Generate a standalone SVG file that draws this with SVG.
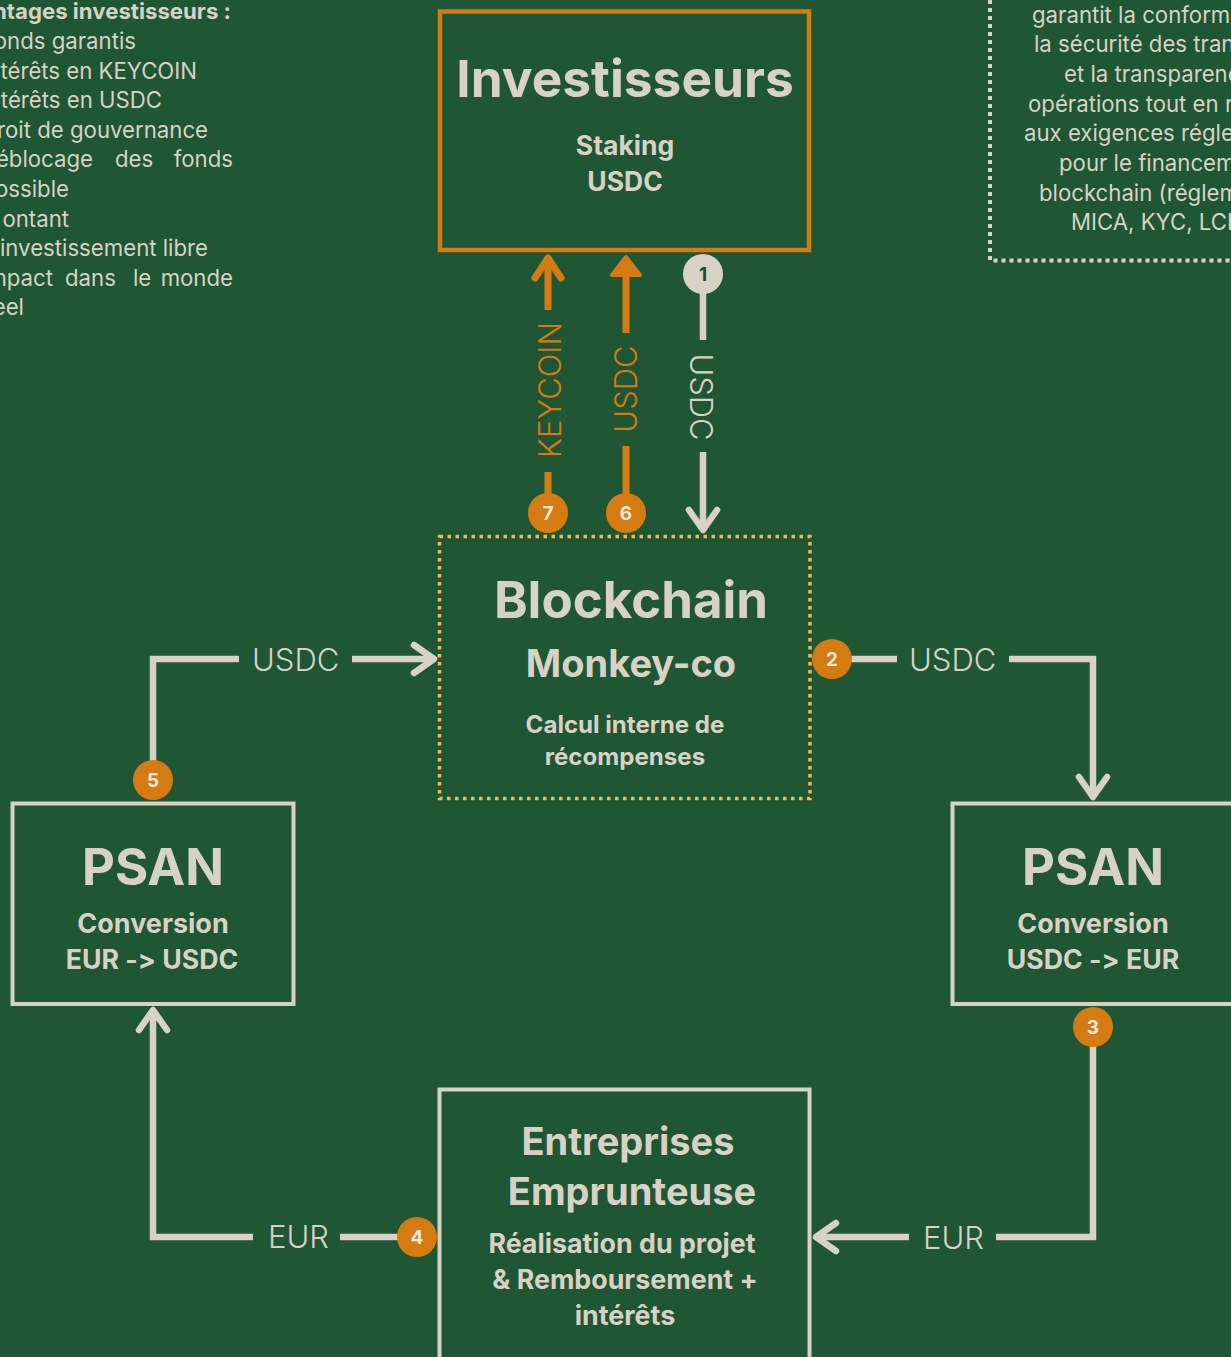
<svg xmlns="http://www.w3.org/2000/svg" width="1231" height="1357" viewBox="0 0 1231 1357">
<defs>
<style>
.bg{fill:#1f5634}
.t{font-family:Inter,"Noto Sans","Liberation Sans",sans-serif;fill:#d8d2c6;font-feature-settings:"calt" 0;font-variant-ligatures:none}
.c{text-anchor:middle}
.e{text-anchor:end}
.b{font-weight:700}
.lab{font-weight:300;font-size:31px}
.note{font-size:22.2px}
.box{fill:none;stroke:#d8d2c6;stroke-width:4}
.ln{fill:none;stroke:#d8d2c6;stroke-width:6.5}
.lo{fill:none;stroke:#d47c12;stroke-width:7}
.bo{fill:#d47c12}
.num{font-family:Inter,"Noto Sans","Liberation Sans",sans-serif;font-weight:700;font-size:19px;fill:#efe9df;text-anchor:middle}
</style>
<marker id="chev" markerUnits="userSpaceOnUse" markerWidth="40" markerHeight="40" viewBox="-30 -20 40 40" refX="0" refY="0" orient="auto" overflow="visible">
<path d="M-20,-14 L0,0 L-20,14" fill="none" stroke="#d8d2c6" stroke-width="6.5" stroke-linecap="round" stroke-linejoin="round"/>
</marker>
<marker id="chevo" markerUnits="userSpaceOnUse" markerWidth="40" markerHeight="40" viewBox="-30 -20 40 40" refX="0" refY="0" orient="auto" overflow="visible">
<path d="M-20,-13 L0,0 L-20,13" fill="none" stroke="#d47c12" stroke-width="7" stroke-linecap="round" stroke-linejoin="round"/>
</marker>
</defs>
<rect class="bg" x="0" y="0" width="1231" height="1357"/>

<g id="note-left" class="t note">
<text class="e b" x="231" y="19.3">ntages investisseurs :</text>
<text class="e" x="136" y="48.9">onds garantis</text>
<text class="e" x="197" y="78.5">térêts en KEYCOIN</text>
<text class="e" x="162" y="108.1">térêts en USDC</text>
<text class="e" x="208" y="137.7">roit de gouvernance</text>
<text class="e" x="93" y="167.3">éblocage</text>
<text x="115" y="167.3">des</text>
<text class="e" x="233" y="167.3">fonds</text>
<text class="e" x="69" y="196.9">ossible</text>
<text class="e" x="69" y="226.5">ontant</text>
<text class="e" x="208" y="256.1">investissement libre</text>
<text class="e" x="53" y="285.7">npact</text>
<text x="65" y="285.7">dans</text>
<text x="133" y="285.7">le</text>
<text class="e" x="233" y="285.7">monde</text>
<text class="e" x="24" y="315.3">eel</text>
</g>

<g id="note-right">
<path d="M990,0 V260.5 H1231" fill="none" stroke="#d8d2c6" stroke-width="4" stroke-dasharray="4 4"/>
<g class="t note">
<text x="1032" y="22.7">garantit la conform</text>
<text x="1034" y="52.4">la sécurité des tran</text>
<text x="1064" y="82">et la transparenc</text>
<text x="1028" y="111.7">opérations tout en r</text>
<text x="1024" y="141.3">aux exigences régle</text>
<text x="1059" y="171">pour le financem</text>
<text x="1039" y="200.6">blockchain (réglem</text>
<text x="1071" y="230.3">MICA, KYC, LCB</text>
</g>
</g>

<g id="connectors">
<path class="ln" d="M703,274 V340"/>
<path class="ln" d="M703,452 V530" marker-end="url(#chev)"/>
<text class="t c lab" transform="translate(690,397) rotate(90)">USDC</text>
<path class="lo" d="M548,513 V472"/>
<path class="lo" d="M548,310 V258" marker-end="url(#chevo)"/>
<text class="c lab" fill="#d47c12" font-family="Inter,'Noto Sans','Liberation Sans',sans-serif" transform="translate(561,390) rotate(-90)">KEYCOIN</text>
<path class="lo" d="M626,513 V446"/>
<path class="lo" d="M626,333 V272"/>
<polygon points="626,257 612,275 640,275" fill="#d47c12" stroke="#d47c12" stroke-width="4" stroke-linejoin="round"/>
<text class="c lab" fill="#d47c12" font-family="Inter,'Noto Sans','Liberation Sans',sans-serif" transform="translate(637,389) rotate(-90)">USDC</text>
<path class="ln" d="M832,659 H897"/>
<path class="ln" d="M1009,659 H1093 V797" marker-end="url(#chev)"/>
<text class="t lab" x="909" y="671">USDC</text>
<path class="ln" d="M1093,1027 V1237 H996"/>
<path class="ln" d="M909,1237 H816" marker-end="url(#chev)"/>
<text class="t lab" x="923" y="1249">EUR</text>
<path class="ln" d="M417,1237 H340"/>
<path class="ln" d="M253,1237 H153 V1010" marker-end="url(#chev)"/>
<text class="t lab" x="268" y="1248">EUR</text>
<path class="ln" d="M153,780 V659 H239"/>
<path class="ln" d="M352,659 H434" marker-end="url(#chev)"/>
<text class="t lab" x="252" y="671">USDC</text>
</g>

<g id="investisseurs">
<rect x="440" y="11.5" width="369" height="238.5" fill="none" stroke="#d47c12" stroke-width="4.5"/>
<text class="t c b" x="625" y="97" font-size="51.4">Investisseurs</text>
<text class="t c b" x="625" y="155" font-size="26.5">Staking</text>
<text class="t c b" x="625" y="191" font-size="26.5">USDC</text>
</g>

<g id="blockchain">
<rect x="439.5" y="536.5" width="370.5" height="262" fill="none" stroke="#f5b75c" stroke-width="3.5" stroke-dasharray="3.5 4.5"/>
<text class="t c b" x="631" y="618" font-size="51">Blockchain</text>
<text class="t c b" x="631" y="677" font-size="38">Monkey-co</text>
<text class="t c b" x="625" y="733" font-size="24.1">Calcul interne de</text>
<text class="t c b" x="625" y="765" font-size="24.1">récompenses</text>
</g>

<g id="psan-left">
<rect class="box" x="12.5" y="803.5" width="281" height="200.5"/>
<text class="t c b" x="153" y="885" font-size="50.8">PSAN</text>
<text class="t c b" x="153" y="933" font-size="27">Conversion</text>
<text class="t c b" x="152" y="969" font-size="26.7">EUR -&gt; USDC</text>
</g>

<g id="psan-right">
<rect class="box" x="952.5" y="803.5" width="281" height="200.5"/>
<text class="t c b" x="1093" y="885" font-size="50.8">PSAN</text>
<text class="t c b" x="1093" y="933" font-size="27">Conversion</text>
<text class="t c b" x="1093" y="969" font-size="26.7">USDC -&gt; EUR</text>
</g>

<g id="entreprises">
<rect class="box" x="439.5" y="1089.5" width="370" height="300"/>
<text class="t c b" x="628" y="1155" font-size="38">Entreprises</text>
<text class="t c b" x="632" y="1205" font-size="38">Emprunteuse</text>
<text class="t c b" x="622" y="1253" font-size="26.8">Réalisation du projet</text>
<text class="t c b" x="625" y="1289" font-size="26.8">&amp; Remboursement +</text>
<text class="t c b" x="625" y="1325" font-size="26.8">intérêts</text>
</g>

<g id="badges">
<g id="badge-1"><circle cx="703" cy="274" r="20" fill="#d8d2c6"/><text class="num" x="703" y="281" style="fill:#1f4a30">1</text></g>
<g id="badge-2"><circle class="bo" cx="832" cy="659" r="20"/><text class="num" x="832" y="666">2</text></g>
<g id="badge-3"><circle class="bo" cx="1093" cy="1027" r="20"/><text class="num" x="1093" y="1034">3</text></g>
<g id="badge-4"><circle class="bo" cx="417" cy="1237" r="20"/><text class="num" x="417" y="1244">4</text></g>
<g id="badge-5"><circle class="bo" cx="153" cy="780" r="20"/><text class="num" x="153" y="787">5</text></g>
<g id="badge-6"><circle class="bo" cx="626" cy="513" r="20"/><text class="num" x="626" y="520">6</text></g>
<g id="badge-7"><circle class="bo" cx="548" cy="513" r="20"/><text class="num" x="548" y="520">7</text></g>
</g>
</svg>
